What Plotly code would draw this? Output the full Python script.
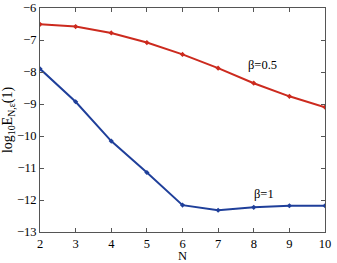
import plotly.graph_objects as go

N = [2, 3, 4, 5, 6, 7, 8, 9, 10]
beta05 = [-6.51, -6.58, -6.78, -7.08, -7.45, -7.88, -8.35, -8.76, -9.10]
beta1 = [-7.90, -8.93, -10.16, -11.14, -12.16, -12.32, -12.23, -12.18, -12.18]
y_ticks = [-13, -12, -11, -10, -9, -8, -7, -6]
y_tick_text = ["−13", "−12", "−11", "−10", "−9", "−8", "−7", "−6"]

fig = go.Figure()
fig.add_trace(go.Scatter(x=N, y=beta05, mode="lines+markers",
                         line=dict(color="#cc2a1e", width=2),
                         marker=dict(symbol="diamond", size=4, color="#cc2a1e")))
fig.add_trace(go.Scatter(x=N, y=beta1, mode="lines+markers",
                         line=dict(color="#1f3f9a", width=2),
                         marker=dict(symbol="diamond", size=4, color="#1f3f9a")))

font = dict(family="Liberation Serif", size=12.5, color="black")
fig.add_annotation(x=7.77, y=-7.78, text="β=0.5", showarrow=False, font=font, xanchor="left")
fig.add_annotation(x=7.95, y=-11.8, text="β=1", showarrow=False, font=font, xanchor="left")
# top y tick label (plotly hides it at the div edge), drawn at the -6 tick
fig.add_annotation(xref="paper", x=0, y=y_ticks[-1], text=y_tick_text[-1], showarrow=False,
                   font=font, xanchor="right", yanchor="middle", xshift=-2)
# x axis title placed below the tick labels
fig.add_annotation(xref="paper", yref="paper", x=0.5, y=0, text="N", showarrow=False,
                   font=font, xanchor="center", yanchor="top", yshift=-15)

axis_common = dict(showline=True, linecolor="#555", linewidth=1, mirror="ticks",
                   ticks="inside", ticklen=4, tickcolor="#555", showgrid=False,
                   zeroline=False, tickfont=font, automargin=False,
                   ticklabeloverflow="allow")
fig.update_xaxes(range=[2, 10], dtick=1, **axis_common)
fig.update_yaxes(range=[-13, -6], tickvals=y_ticks, ticktext=y_tick_text[:-1] + [""],
                 title=dict(text="log<sub>10</sub>E<sub>N,ε</sub>(1)", font=dict(family="Liberation Serif", size=14, color="black"), standoff=4),
                 **axis_common)
fig.update_layout(width=337, height=263, margin=dict(l=40, r=12, t=8, b=31),
                  plot_bgcolor="white", paper_bgcolor="white", showlegend=False, font=font)
fig.write_html("out.html", config={"displayModeBar": False},
               post_script="document.body.style.margin='0';")
